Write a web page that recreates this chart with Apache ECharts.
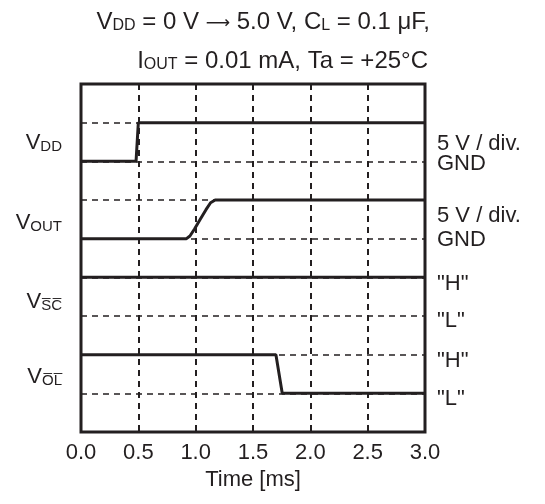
<!DOCTYPE html>
<html>
<head>
<meta charset="utf-8">
<script src="https://cdn.jsdelivr.net/npm/echarts@6/dist/echarts.min.js"></script>
<style>html,body{margin:0;padding:0;background:#fff;}#c{width:545px;height:504px;}</style>
</head>
<body>
<div id="c"></div>
<script>
// time ticks (ms)
const xTicks = [0, 0.5, 1.0, 1.5, 2.0, 2.5, 3.0];
// traces: [time ms, division]
const vddTrace = [[0, 7], [0.48, 7], [0.50, 8], [3.0, 8]];
const voutTrace = [[0, 5], [0.92, 5], [0.95, 5.07], [0.99, 5.25], [1.04, 5.5], [1.09, 5.75], [1.13, 5.93], [1.17, 6], [3.0, 6]];
const vscTrace = [[0, 4], [3.0, 4]];
const volTrace = [[0, 2], [1.70, 2], [1.755, 1], [3.0, 1]];
// left channel names and their division anchor
const leftNames = ['{v|V}{s|DD}', '{v|V}{s|OUT}', '{v|V}{s|S\u0305C\u0305}', '{v|V}{s|O\u0305L\u0305}'];
const leftAnchors = [7.47, 5.4, 3.36, 1.42];
// right scale labels and their division anchor
const rightNames = ['5 V / div.', 'GND', '5 V / div.', 'GND', '"H"', '"L"', '"H"', '"L"'];
const rightAnchors = [7.44, 6.92, 5.58, 4.98, 3.84, 2.87, 1.85, 0.86];

const INK = '#231f20';
const FONT = '"Liberation Sans", Arial, sans-serif';
const rich = {
  v: {fontSize: 22, color: INK, fontFamily: FONT, fontWeight: 'normal', verticalAlign: 'bottom'},
  s: {fontSize: 15, color: INK, fontFamily: FONT, fontWeight: 'normal', verticalAlign: 'bottom'},
  t: {fontSize: 24, color: INK, fontFamily: FONT, fontWeight: 'normal', verticalAlign: 'bottom'},
  ts: {fontSize: 16, color: INK, fontFamily: FONT, fontWeight: 'normal', verticalAlign: 'bottom'},
  a: {fontSize: 17, color: INK, fontFamily: '"DejaVu Sans"', fontWeight: 'normal', verticalAlign: 'bottom', padding: [0, 0, 2, 0]}
};

function trace(data) {
  return {type: 'line', data: data, symbol: 'none', lineStyle: {color: INK, width: 3}, z: 5, animation: false};
}

const chart = echarts.init(document.getElementById('c'));
chart.setOption({
  animation: false,
  title: [
    {text: '{t|V}{ts|DD}{t| = 0 V }{a|\u27f6}{t| 5.0 V, C}{ts|L}{t| = 0.1 \u03bcF,}', right: 115, top: 10, padding: 0, textStyle: {fontWeight: 'normal', rich: rich}},
    {text: '{t|I}{ts|OUT}{t| = 0.01 mA, Ta = +25\u00b0C}', right: 117, top: 49, padding: 0, textStyle: {fontWeight: 'normal', rich: rich}}
  ],
  grid: {left: 81, right: 120, top: 84, bottom: 72, show: true, borderColor: INK, borderWidth: 3, z: 10},
  xAxis: {
    type: 'value', min: 0, max: 3, interval: 0.5,
    name: 'Time [ms]', nameLocation: 'middle', nameGap: 28,
    nameTextStyle: {fontSize: 22, color: INK, fontFamily: FONT},
    axisLine: {show: false}, axisTick: {show: false},
    axisLabel: {fontSize: 22, color: INK, fontFamily: FONT, margin: 10, formatter: v => v.toFixed(1)},
    splitLine: {show: true, lineStyle: {color: INK, width: 2, type: [6, 5]}}
  },
  yAxis: {
    type: 'value', min: 0, max: 9, interval: 1,
    axisLine: {show: false}, axisTick: {show: false}, axisLabel: {show: false},
    splitLine: {show: true, lineStyle: {color: INK, width: 1.5, type: [6, 5]}}
  },
  series: [
    trace(vddTrace), trace(voutTrace), trace(vscTrace), trace(volTrace),
    {
      type: 'scatter', symbolSize: 0, silent: true, clip: false,
      itemStyle: {opacity: 1},
      data: leftAnchors.map((y, i) => ({value: [0, y], label: {formatter: leftNames[i]}})),
      label: {show: true, position: 'left', distance: 19, opacity: 1, rich: rich}
    },
    {
      type: 'scatter', symbolSize: 0, silent: true, clip: false,
      itemStyle: {opacity: 1},
      data: rightAnchors.map((y, i) => ({value: [3, y], label: {formatter: rightNames[i]}})),
      label: {show: true, position: 'right', distance: 12, opacity: 1, fontSize: 22, color: INK, fontFamily: FONT}
    }
  ]
});
</script>
</body>
</html>
